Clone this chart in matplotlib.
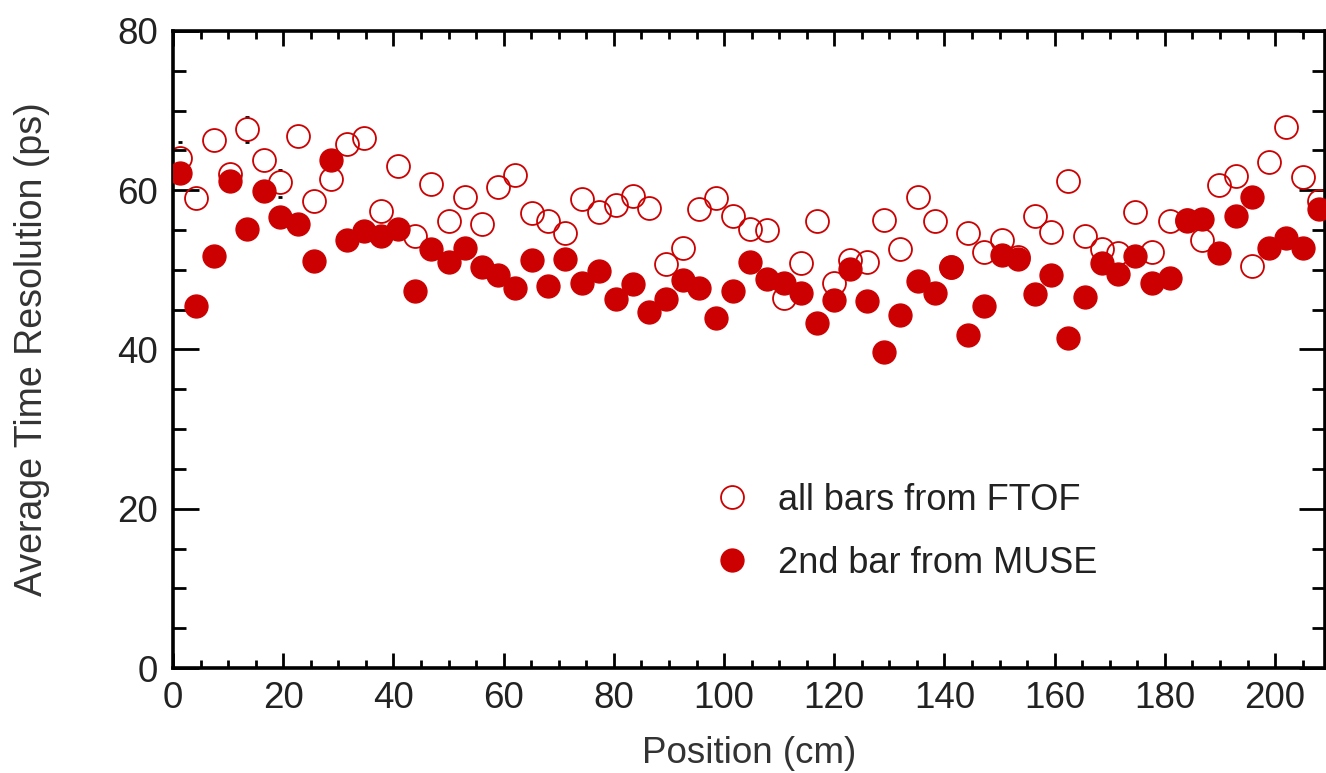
import matplotlib
matplotlib.use("Agg")
import matplotlib.pyplot as plt
from matplotlib.ticker import MultipleLocator

plt.rcParams["font.family"] = ["Liberation Sans", "DejaVu Sans"]

# positions along the bar (cm)
position = [
    1.2, 4.2, 7.4, 10.4, 13.4, 16.5, 19.5, 22.6, 25.6, 28.6,
    31.6, 34.7, 37.7, 40.9, 43.9, 46.9, 50.0, 53.0, 56.0, 59.0,
    62.1, 65.1, 68.1, 71.2, 74.3, 77.3, 80.3, 83.4, 86.4, 89.4,
    92.5, 95.5, 98.6, 101.6, 104.7, 107.8, 110.8, 113.9, 116.9, 119.9,
    122.9, 125.9, 129.0, 132.0, 135.2, 138.2, 141.2, 144.2, 147.2, 150.4,
    153.4, 156.4, 159.4, 162.5, 165.5, 168.5, 171.5, 174.6, 177.6, 180.9,
    184.0, 186.8, 189.8, 192.9, 195.9, 198.9, 201.9, 205.0, 208.0,
]

# average time resolution (ps), all bars from FTOF
ftof = [
    64.1, 59.0, 66.3, 62.0, 67.7, 63.8, 61.0, 66.8, 58.7, 61.4,
    65.8, 66.5, 57.4, 63.1, 54.3, 60.8, 56.1, 59.1, 55.8, 60.4,
    61.9, 57.1, 56.1, 54.6, 58.9, 57.3, 58.2, 59.3, 57.8, 50.7,
    52.7, 57.6, 59.0, 56.7, 55.1, 55.0, 46.5, 50.9, 56.1, 48.4,
    51.2, 51.0, 56.2, 52.6, 59.2, 56.1, 50.4, 54.6, 52.2, 53.7,
    51.6, 56.7, 54.7, 61.1, 54.3, 52.6, 52.1, 57.2, 52.3, 56.1,
    56.2, 53.7, 60.6, 61.8, 50.5, 63.5, 67.9, 61.6, 58.7,
]

# average time resolution (ps), 2nd bar from MUSE
muse = [
    62.2, 45.5, 51.7, 61.1, 55.1, 59.9, 56.6, 55.8, 51.1, 63.8,
    53.7, 54.9, 54.3, 55.1, 47.4, 52.6, 51.0, 52.8, 50.3, 49.3,
    47.7, 51.2, 48.0, 51.4, 48.4, 49.8, 46.3, 48.2, 44.7, 46.3,
    48.7, 47.7, 44.0, 47.4, 51.0, 48.9, 48.4, 47.1, 43.3, 46.2,
    50.1, 46.1, 39.7, 44.3, 48.6, 47.1, 50.3, 41.8, 45.5, 51.9,
    51.4, 47.0, 49.3, 41.5, 46.6, 50.8, 49.5, 51.8, 48.3, 49.0,
    56.1, 56.4, 52.1, 56.7, 59.2, 52.8, 54.0, 52.8, 57.6,
]

# the few error-bar caps that peek out of the open circles
err_pos = [1.2, 13.4, 19.5]
err_val = [64.1, 67.6, 60.8]
err_size = [1.9, 1.6, 1.7]

RED = "#cc0000"

fig = plt.figure(figsize=(13.26, 7.73), dpi=100)
ax = fig.add_axes([0.1305, 0.1358, 0.8685, 0.8242])

ax.errorbar(err_pos, err_val, yerr=err_size, fmt="none", ecolor="black",
            elinewidth=0, capsize=1.6, capthick=2.0, zorder=1)
ax.plot(position, ftof, "o", ms=16.5, mfc="none", mec=RED, mew=1.3,
        label="all bars from FTOF", zorder=2)
ax.plot(position, muse, "o", ms=16.5, mfc=RED, mec=RED, mew=1.0,
        label="2nd bar from MUSE", zorder=3)

ax.set_xlim(0, 209)
ax.set_ylim(0, 80)
ax.xaxis.set_major_locator(MultipleLocator(20))
ax.xaxis.set_minor_locator(MultipleLocator(5))
ax.yaxis.set_major_locator(MultipleLocator(20))
ax.yaxis.set_minor_locator(MultipleLocator(5))

ax.tick_params(axis="both", which="both", direction="in", top=True, right=True,
               width=2.0, colors="black", labelsize=26.5)
ax.tick_params(axis="x", which="major", length=11, pad=9)
ax.tick_params(axis="x", which="minor", length=6)
ax.tick_params(axis="y", which="major", length=19, pad=11)
ax.tick_params(axis="y", which="minor", length=9.5)
for lab in ax.get_xticklabels() + ax.get_yticklabels():
    lab.set_color("#222222")
for sp in ax.spines.values():
    sp.set_linewidth(2.6)

ax.set_xlabel("Position (cm)", fontsize=26.5, color="#333333", labelpad=15)
ax.set_ylabel("Average Time Resolution (ps)", fontsize=27, color="#333333", labelpad=48)

ax.legend(loc="upper left", bbox_to_anchor=(0.47, 0.291), frameon=False,
          fontsize=26, handlelength=1.0, handletextpad=0.75, labelspacing=0.78,
          borderaxespad=0, borderpad=0, labelcolor="#222222")

fig.savefig("out.png", dpi=100)
